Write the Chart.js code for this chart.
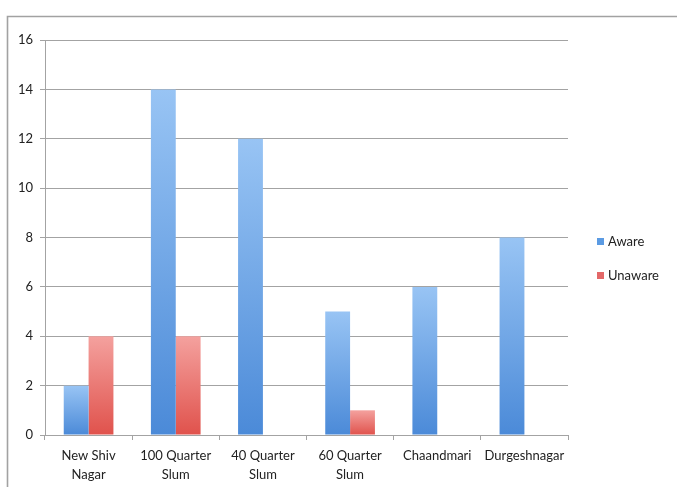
<!DOCTYPE html>
<html>
<head>
<meta charset="utf-8">
<script src="https://cdn.jsdelivr.net/npm/chart.js@4/dist/chart.umd.min.js"></script>
<style>
  html, body { margin: 0; padding: 0; background: #ffffff; }
  #wrap { position: absolute; left: 0; top: 0; width: 677px; height: 487px; }
</style>
</head>
<body>
<div id="wrap"><canvas id="c" width="677" height="487"></canvas></div>
<script>
const categories = [["New Shiv", "Nagar"], ["100 Quarter", "Slum"], ["40 Quarter", "Slum"], ["60 Quarter", "Slum"], "Chaandmari", "Durgeshnagar"];
const awareValues = [2, 14, 12, 5, 6, 8];
const unawareValues = [4, 4, 0, 1, 0, 0];
const yTicks = { min: 0, max: 16, step: 2 };
const seriesNames = ["Aware", "Unaware"];

const FONT = "Lato, 'Open Sans', sans-serif";
const TEXT = "#222222";
const GRID = "#a3a3a3";

function barGradient(top, bottom, fallback) {
  return function (ctx) {
    const chart = ctx.chart;
    const y = chart.scales && chart.scales.y;
    if (!y || ctx.type !== 'data') return fallback;
    const pTop = y.getPixelForValue(ctx.raw);
    const pBase = y.getPixelForValue(0);
    if (!isFinite(pTop) || !isFinite(pBase) || Math.abs(pBase - pTop) < 1) return fallback;
    const g = chart.ctx.createLinearGradient(0, pTop, 0, pBase);
    g.addColorStop(0, top);
    g.addColorStop(1, bottom);
    return g;
  };
}

const framePlugin = {
  id: 'frame',
  beforeDraw(chart) {
    const c = chart.ctx;
    c.save();
    c.strokeStyle = "#a2a2a2";
    c.lineWidth = 1.6;
    c.beginPath();
    c.moveTo(7.5, 487);
    c.lineTo(7.5, 16.5);
    c.lineTo(677, 16.5);
    c.stroke();
    c.restore();
  }
};

const legendPlugin = {
  id: 'sideLegend',
  afterDraw(chart) {
    const c = chart.ctx;
    const area = chart.chartArea;
    const items = [
      { text: seriesNames[0], color: "#5b9be3" },
      { text: seriesNames[1], color: "#e36868" }
    ];
    c.save();
    c.font = "13px " + FONT;
    c.textBaseline = "middle";
    c.textAlign = "left";
    items.forEach((it, i) => {
      const x = area.right + 29;
      const yc = 242 + i * 34;
      c.fillStyle = it.color;
      c.fillRect(x, yc - 4, 7, 7);
      c.fillStyle = TEXT;
      c.fillText(it.text, x + 11, yc);
    });
    c.restore();
  }
};

new Chart(document.getElementById('c'), {
  type: 'bar',
  data: {
    labels: categories,
    datasets: [
      {
        label: seriesNames[0],
        data: awareValues,
        backgroundColor: barGradient("#98c4f4", "#4b8ad8", "#74aaea"),
        borderWidth: 0
      },
      {
        label: seriesNames[1],
        data: unawareValues,
        backgroundColor: barGradient("#f4a19e", "#e0524c", "#e87a76"),
        borderWidth: 0
      }
    ]
  },
  options: {
    responsive: false,
    animation: false,
    devicePixelRatio: 1,
    layout: { padding: { left: 0, top: 40, right: 109, bottom: 0 } },
    datasets: { bar: { categoryPercentage: 0.57, barPercentage: 1.0 } },
    plugins: {
      legend: { display: false },
      tooltip: { enabled: false }
    },
    scales: {
      x: {
        grid: { display: true, drawOnChartArea: false, drawTicks: true, tickLength: 5, color: GRID, offset: true },
        border: { display: true, color: GRID, width: 1 },
        ticks: { color: TEXT, font: { family: FONT, size: 13, lineHeight: 1.5 }, padding: 6, maxRotation: 0, autoSkip: false },
        afterFit(scale) { scale.height = 52; }
      },
      y: {
        min: yTicks.min,
        max: yTicks.max,
        ticks: { stepSize: yTicks.step, color: TEXT, font: { family: FONT, size: 13 }, padding: 7 },
        grid: { color: GRID, lineWidth: 1, drawTicks: true, tickLength: 5 },
        border: { display: true, color: GRID, width: 1 },
        afterFit(scale) { scale.width = 45; }
      }
    }
  },
  plugins: [framePlugin, legendPlugin]
});
</script>
</body>
</html>
